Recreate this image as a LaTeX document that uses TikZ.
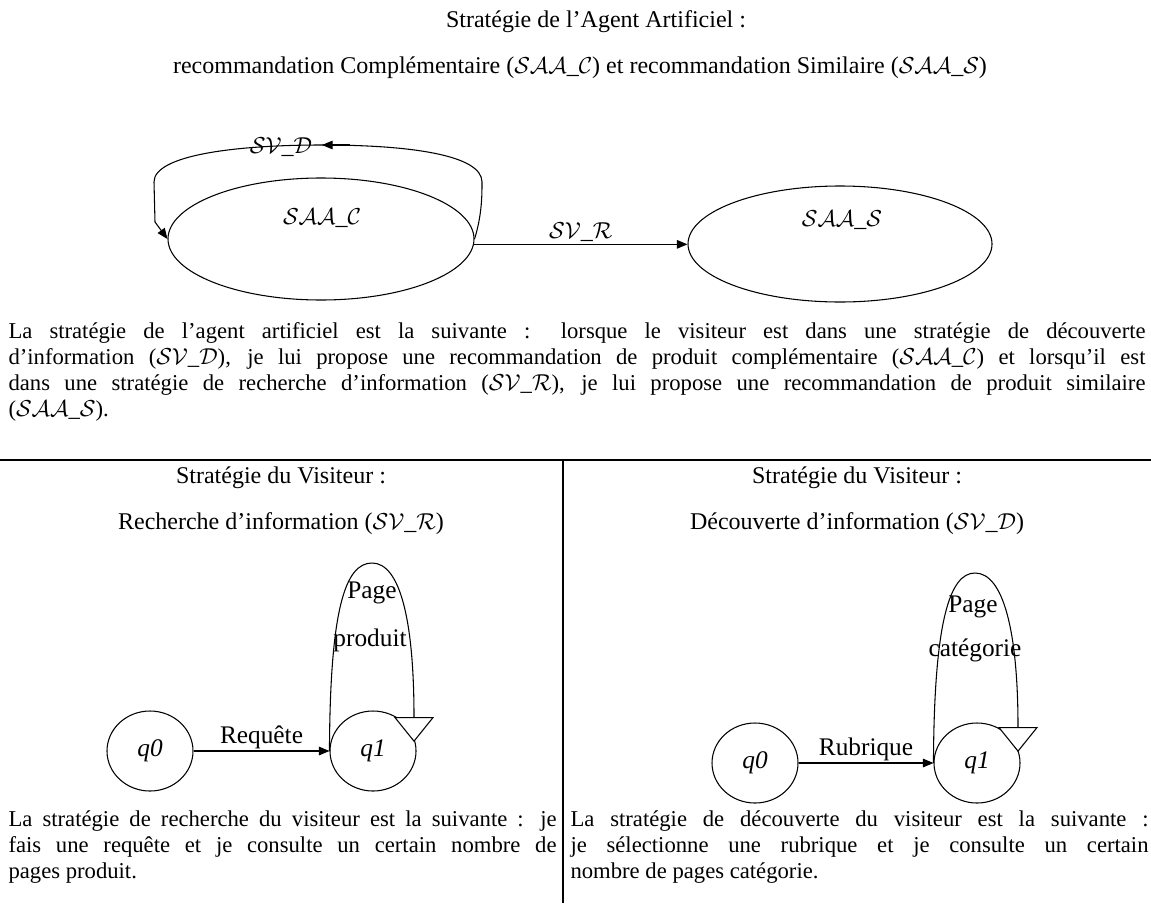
\documentclass[tikz,border=0pt]{standalone}
\usepackage{fontspec}
\setmainfont{Liberation Serif}
\usepackage{graphicx}
\usetikzlibrary{arrows.meta,shapes.geometric}
\newlength\fitnat
\newcommand\fitline[2]{\settowidth\fitnat{#2}\ifdim\fitnat>#1\relax\resizebox{#1}{\height}{#2}\else\makebox[#1][s]{#2}\fi}
\newcommand\calt[1]{\ensuremath{\mathcal{#1}}}
\begin{document}
\begin{tikzpicture}[x=0.75pt,y=-0.75pt,
  font=\fontsize{18}{21}\selectfont,
  bigstate/.style={draw, ellipse, inner sep=0pt},
  state/.style={draw, ellipse, minimum width=64.5pt, minimum height=60pt, inner sep=0pt, font=\fontsize{19}{21}\selectfont\itshape},
  txt/.style={anchor=base west, inner sep=0pt, font=\fontsize{17}{20}\selectfont},
  arr/.style={-{Triangle[length=8pt,width=6.5pt]}},
  openarr/.style={-{Triangle[length=18.75pt,width=30pt,fill=white]}},
  lbl/.style={font=\fontsize{19}{21}\selectfont, inner sep=1pt},
  line width=0.8pt]
\useasboundingbox (0,0) rectangle (1151,903);

% titles
\node (t1) at (596,22) {Stratégie de l'Agent Artificiel :};
\node (t2) at (580,68) {recommandation Complémentaire (\calt{SAA}\_\calt{C}) et recommandation Similaire (\calt{SAA}\_\calt{S})};

% agent automaton
\node[bigstate, minimum width=229.5pt, minimum height=91.5pt] (saac) at (321,239) {};
\node[bigstate, minimum width=228pt, minimum height=87pt] (saas) at (840,244) {};
\node (saaclbl) at (322,218) {\calt{SAA}\_\calt{C}};
\node (saaslbl) at (842,220) {\calt{SAA}\_\calt{S}};
\draw[arr] (saac.-2) -- node[above=-2pt] {\calt{SV}\_\calt{R}} (saac.-2 -| saas.west);
\coordinate (looptop) at (322,145);
\draw (saac.east) .. controls (482,215) and (482,195) .. (482,182)
      .. controls (482,155) and (410,145) .. (looptop);
\draw[arr] (350,145) -- (looptop);
\draw[arr] (looptop) .. controls (236,145) and (154,155) .. (154,182)
      -- (155,222) -- (saac.west);
\node (svd) at (281,147) {\calt{SV}\_\calt{D}};

% paragraph
\node[txt] (p1) at (8,338) {\fitline{852.75pt}{La stratégie de l'agent artificiel est la suivante : lorsque le visiteur est dans une stratégie de découverte}};
\node[txt] (p2) at (8,364) {\fitline{852.75pt}{d'information (\calt{SV}\_\calt{D}), je lui propose une recommandation de produit complémentaire (\calt{SAA}\_\calt{C}) et lorsqu'il est}};
\node[txt] (p3) at (8,390) {\fitline{852.75pt}{dans une stratégie de recherche d'information (\calt{SV}\_\calt{R}), je lui propose une recommandation de produit similaire}};
\node[txt] (p4) at (8,416) {(\calt{SAA}\_\calt{S}).};

% table rules
\draw (0,460) -- (1151,460);
\draw (563,460) -- (563,903);

% left cell
\node (lt1) at (281,478) {Stratégie du Visiteur :};
\node (lt2) at (281,524) {Recherche d'information (\calt{SV}\_\calt{R})};
\node[state] (q0l) at (150,751) {q0};
\node[state] (q1l) at (373,751) {q1};
\draw[arr] (q0l) -- node[lbl, above] {Requête} (q1l);
\draw[openarr] (q1l.west) .. controls (330,610) and (345,563) .. (372,563)
      .. controls (400,563) and (414,620) .. (414,742);
\node[lbl] (pg1) at (372,593) {Page};
\node[lbl] (pp1) at (370,640) {produit};
\node[txt] (l1) at (8,826) {\fitline{411pt}{La stratégie de recherche du visiteur est la suivante : je}};
\node[txt] (l2) at (8,852) {\fitline{411pt}{fais une requête et je consulte un certain nombre de}};
\node[txt] (l3) at (8,878) {pages produit.};

% right cell
\node (rt1) at (857,478) {Stratégie du Visiteur :};
\node (rt2) at (857,524) {Découverte d'information (\calt{SV}\_\calt{D})};
\node[state] (q0r) at (755,763) {q0};
\node[state] (q1r) at (977,763) {q1};
\draw[arr] (q0r) -- node[lbl, above] {Rubrique} (q1r);
\draw[openarr] (q1r.west) .. controls (934,620) and (950,573) .. (975,573)
      .. controls (1003,573) and (1018,630) .. (1018,752);
\node[lbl] (pg2) at (973,607) {Page};
\node[lbl] (pc2) at (975,650) {catégorie};
\node[txt] (r1) at (570,826) {\fitline{433.5pt}{La stratégie de découverte du visiteur est la suivante :}};
\node[txt] (r2) at (570,852) {\fitline{433.5pt}{je sélectionne une rubrique et je consulte un certain}};
\node[txt] (r3) at (570,878) {nombre de pages catégorie.};
\end{tikzpicture}
\end{document}
